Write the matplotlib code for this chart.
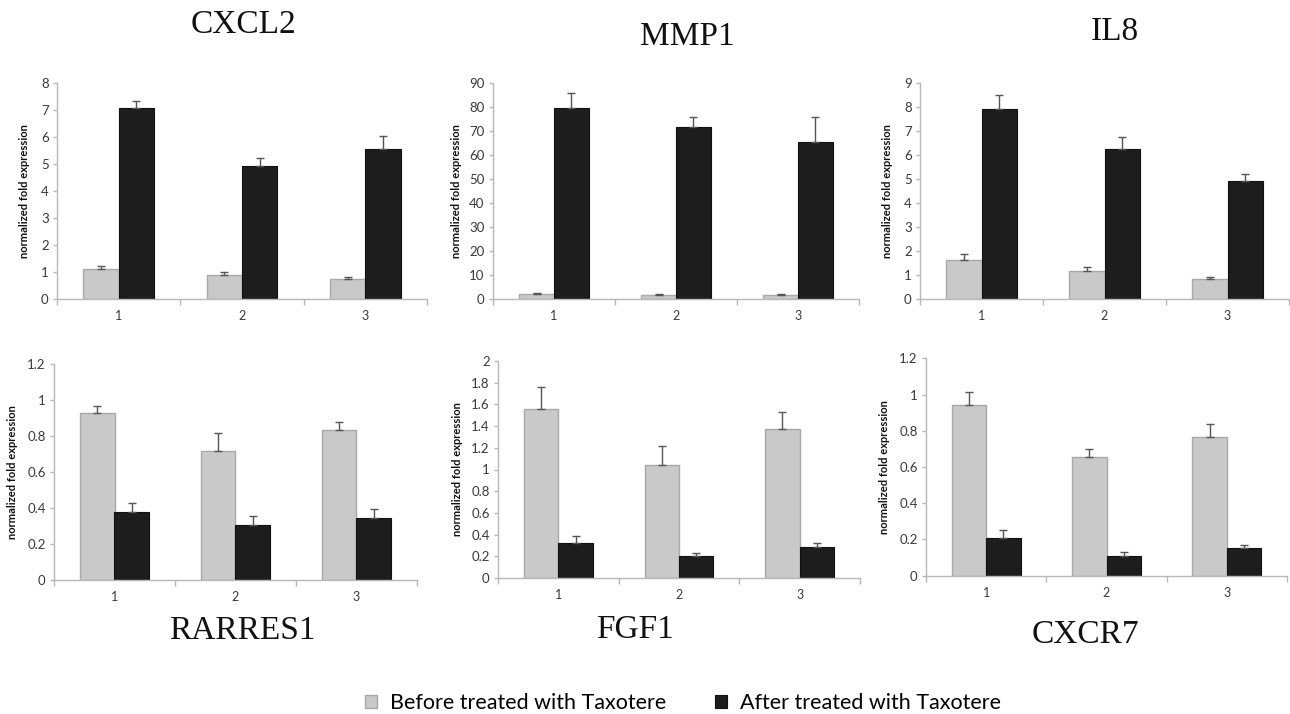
import matplotlib
matplotlib.use("Agg")
import matplotlib.pyplot as plt
from matplotlib.patches import Patch
from matplotlib.ticker import FuncFormatter, FixedLocator
import numpy as np

# ---- data ----
genes = ["CXCL2", "MMP1", "IL8", "RARRES1", "FGF1", "CXCR7"]
categories = ["1", "2", "3"]

before_vals = {
    "CXCL2": [1.09, 0.88, 0.73],
    "MMP1": [1.8, 1.7, 1.5],
    "IL8": [1.60, 1.15, 0.82],
    "RARRES1": [0.924, 0.713, 0.830],
    "FGF1": [1.555, 1.038, 1.370],
    "CXCR7": [0.941, 0.656, 0.764],
}
before_err = {
    "CXCL2": [0.13, 0.095, 0.08],
    "MMP1": [0.4, 0.3, 0.3],
    "IL8": [0.26, 0.18, 0.07],
    "RARRES1": [0.043, 0.100, 0.046],
    "FGF1": [0.202, 0.176, 0.157],
    "CXCR7": [0.074, 0.046, 0.076],
}
after_vals = {
    "CXCL2": [7.08, 4.91, 5.55],
    "MMP1": [79.3, 71.4, 65.4],
    "IL8": [7.89, 6.25, 4.89],
    "RARRES1": [0.379, 0.305, 0.346],
    "FGF1": [0.320, 0.203, 0.283],
    "CXCR7": [0.210, 0.110, 0.155],
}
after_err = {
    "CXCL2": [0.24, 0.30, 0.46],
    "MMP1": [6.4, 4.2, 10.4],
    "IL8": [0.60, 0.49, 0.32],
    "RARRES1": [0.046, 0.050, 0.050],
    "FGF1": [0.070, 0.024, 0.040],
    "CXCR7": [0.040, 0.023, 0.015],
}
y_max = {"CXCL2": 8, "MMP1": 90, "IL8": 9, "RARRES1": 1.2, "FGF1": 2, "CXCR7": 1.2}
y_step = {"CXCL2": 1, "MMP1": 10, "IL8": 1, "RARRES1": 0.2, "FGF1": 0.2, "CXCR7": 0.2}

legend_labels = ["Before treated with Taxotere", "After treated with Taxotere"]
ylabel = "normalized fold expression"

# ---- layout (pixels) ----
W, H = 1290, 714
boxes = {
    "CXCL2": (57, 427, 298.7, 82.7),
    "MMP1": (493, 859, 298.7, 82.7),
    "IL8": (920, 1289, 298.7, 82.7),
    "RARRES1": (54, 417, 580, 363.7),
    "FGF1": (498, 860, 578, 361),
    "CXCR7": (926, 1287, 575.7, 358.3),
}
label_off = {"CXCL2": 27, "MMP1": 31, "IL8": 27, "RARRES1": 36, "FGF1": 35, "CXCR7": 36}
titles_pos = {
    "CXCL2": (243, 25), "MMP1": (687, 37), "IL8": (1115, 32),
    "RARRES1": (242, 631), "FGF1": (635, 630), "CXCR7": (1085, 635),
}

GRAY = "#c9c9c9"
GRAY_EDGE = "#a9a9a9"
BLACK = "#1d1d1d"
SPINE = "#b8b8b8"
TICKTXT = "#3a3a3a"
SANS = ["Lato", "DejaVu Sans"]

fig = plt.figure(figsize=(W / 100, H / 100), dpi=100)
fig.patch.set_facecolor("white")

x = np.arange(1, len(categories) + 1)
bw = 1 / 3.5

for g in genes:
    l, r, y0, yt = boxes[g]
    ax = fig.add_axes([l / W, (H - y0) / H, (r - l) / W, (y0 - yt) / H])
    bv = np.array(before_vals[g]); be = np.array(before_err[g])
    av = np.array(after_vals[g]); ae = np.array(after_err[g])
    ax.bar(x - bw / 2, bv, width=bw, color=GRAY, edgecolor=GRAY_EDGE, linewidth=1.0, zorder=2)
    ax.bar(x + bw / 2, av, width=bw, color=BLACK, edgecolor="#111111", linewidth=0.8, zorder=2)
    ax.errorbar(x - bw / 2, bv, yerr=[np.zeros_like(be), be], fmt="none",
                ecolor="#555555", elinewidth=1.0, capsize=3, capthick=1.0, zorder=3)
    ax.errorbar(x + bw / 2, av, yerr=[np.zeros_like(ae), ae], fmt="none",
                ecolor="#555555", elinewidth=1.0, capsize=3, capthick=1.0, zorder=3)
    ax.set_xlim(0.5, 3.5)
    ax.set_ylim(0, y_max[g])
    ax.yaxis.set_major_locator(FixedLocator(np.arange(0, y_max[g] + y_step[g] / 2, y_step[g])))
    ax.yaxis.set_major_formatter(FuncFormatter(lambda v, p: f"{round(v, 2):g}"))
    ax.set_xticks(x)
    ax.set_xticklabels(categories)
    ax.set_xticks([0.5, 1.5, 2.5, 3.5], minor=True)
    ax.tick_params(axis="x", which="major", length=0, pad=8, labelsize=9, labelcolor=TICKTXT)
    ax.tick_params(axis="x", which="minor", length=4, width=1, color=SPINE, direction="out")
    ax.tick_params(axis="y", which="major", length=3, width=1, color=SPINE, direction="out",
                   labelsize=9.5, labelcolor=TICKTXT, pad=3)
    for lbl in ax.get_xticklabels() + ax.get_yticklabels():
        lbl.set_fontfamily(SANS)
    for s in ["top", "right"]:
        ax.spines[s].set_visible(False)
    for s in ["left", "bottom"]:
        ax.spines[s].set_color(SPINE)
        ax.spines[s].set_linewidth(1.0)
    ax.set_ylabel(ylabel, fontsize=8, fontweight="bold", fontfamily=SANS, color="#111111")
    ax.yaxis.set_label_coords(-label_off[g] / (r - l), 0.5)
    tx, ty = titles_pos[g]
    fig.text(tx / W, 1 - ty / H, g, ha="center", va="center", fontsize=24,
             fontfamily="Liberation Serif", color="#111111")

handles = [Patch(facecolor=GRAY, edgecolor=GRAY_EDGE, linewidth=1.0),
           Patch(facecolor=BLACK, edgecolor="#111111", linewidth=0.8)]
fig.legend(handles, legend_labels, loc="center", bbox_to_anchor=(683 / W, 1 - 703 / H),
           ncol=2, frameon=False, prop={"family": SANS, "size": 15.5},
           handlelength=0.55, handleheight=0.55, handletextpad=0.6, columnspacing=2.3,
           borderpad=0.1)

fig.savefig("out.png", dpi=100, facecolor="white")
